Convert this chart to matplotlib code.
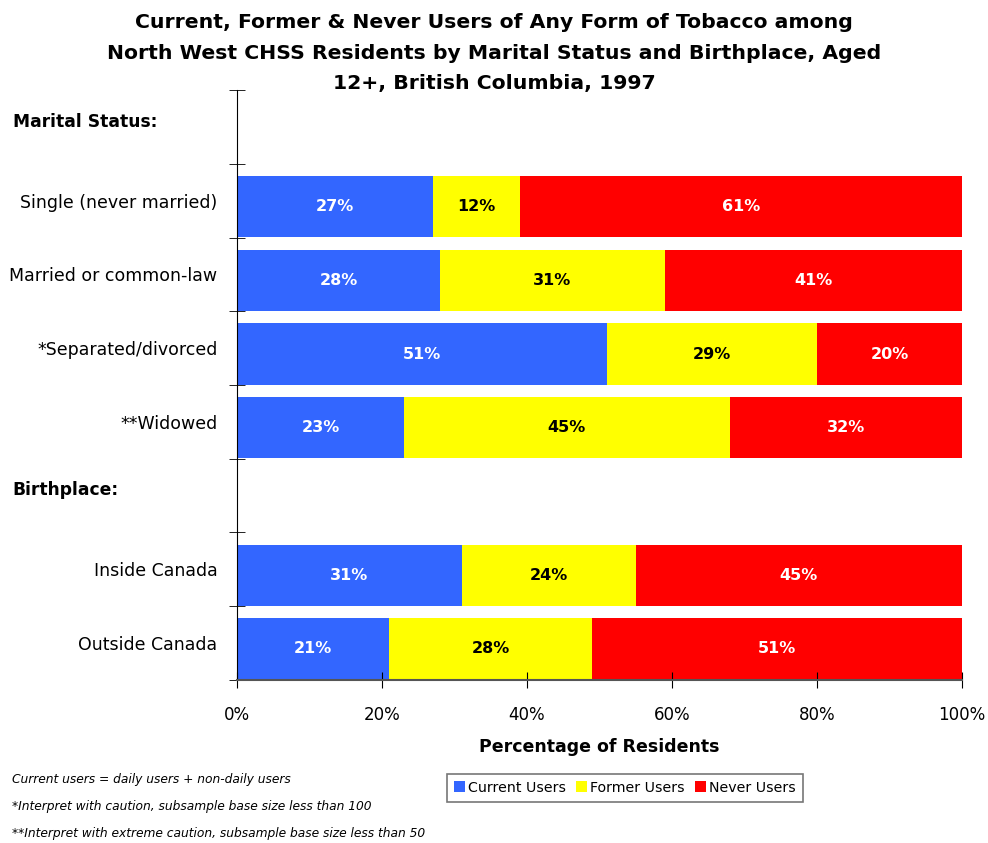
import matplotlib.pyplot as plt
import matplotlib.transforms as mtransforms
import numpy as np

plt.rcParams['font.family'] = ['DejaVu Sans']

# data
groups = ['Marital Status:', 'Birthplace:']
marital = ['Single (never married)', 'Married or common-law',
           '*Separated/divorced', '**Widowed']
birth = ['Inside Canada', 'Outside Canada']
current = [27, 28, 51, 23, 31, 21]
former = [12, 31, 29, 45, 24, 28]
never = [61, 41, 20, 32, 45, 51]
series = ['Current Users', 'Former Users', 'Never Users']
colors = ['#3366FF', '#FFFF00', '#FF0000']
text_colors = ['white', 'black', 'white']

# rows: header, 4 marital, header, 2 birthplace
header_rows = [0, 5]
bar_rows = [1, 2, 3, 4, 6, 7]
labels = marital + birth

fig = plt.figure(figsize=(9.88, 8.43), dpi=100)
ax = fig.add_axes([0.2399, 0.1934, 0.7338, 0.6998])

left = np.zeros(len(current))
rows = np.array(bar_rows) + 0.08
for vals, c, tc, name in zip([current, former, never], colors, text_colors, series):
    vals = np.array(vals)
    ax.barh(rows, vals, left=left, height=0.83, color=c, label=name)
    for r, l, v in zip(rows, left, vals):
        ax.text(l + v / 2, r, f'{v}%', ha='center', va='center',
                color=tc, fontsize=11.5, fontweight='bold')
    left = left + vals

ax.set_xlim(0, 100)
ax.set_ylim(7.5, -0.5)
ax.set_xticks(np.arange(0, 101, 20))
ax.set_xticklabels([f'{x}%' for x in range(0, 101, 20)], fontsize=12)
ax.set_yticks(bar_rows)
ax.set_yticklabels(labels, fontsize=12.5)
ax.set_yticks(np.arange(-0.5, 8, 1), minor=True)
ax.tick_params(axis='y', which='major', length=0, pad=14)
ax.tick_params(axis='y', which='minor', direction='inout', length=12)
ax.tick_params(axis='x', direction='inout', length=12, pad=13)

for s in ['top', 'right']:
    ax.spines[s].set_visible(False)
ax.spines['bottom'].set_color('#555555')
ax.spines['bottom'].set_linewidth(1.5)

trans = mtransforms.blended_transform_factory(fig.transFigure, ax.transData)
for g, r in zip(groups, header_rows):
    ax.text(0.013, r - 0.07, g, transform=trans, fontsize=12.3, fontweight='bold',
            ha='left', va='center')

ax.set_xlabel('Percentage of Residents', fontsize=12.5, fontweight='bold', labelpad=10)

fig.text(0.5, 0.937, 'Current, Former & Never Users of Any Form of Tobacco among\n'
         'North West CHSS Residents by Marital Status and Birthplace, Aged\n'
         '12+, British Columbia, 1997', ha='center', va='center',
         fontsize=14.7, fontweight='bold', linespacing=1.78)

fig.text(0.012, 0.075, 'Current users = daily users + non-daily users', fontsize=8.8, style='italic', va='center')
fig.text(0.012, 0.043, '*Interpret with caution, subsample base size less than 100', fontsize=8.8, style='italic', va='center')
fig.text(0.012, 0.011, '**Interpret with extreme caution, subsample base size less than 50', fontsize=8.8, style='italic', va='center')

leg = fig.legend(loc='center', bbox_to_anchor=(0.6325, 0.0655), ncol=3, fontsize=10.2,
                 frameon=True, fancybox=False, edgecolor='#555555',
                 handlelength=0.8, handleheight=0.8, handletextpad=0.2,
                 columnspacing=0.7, borderpad=0.5)
leg.get_frame().set_linewidth(1.2)

fig.savefig('out.png', dpi=100)
